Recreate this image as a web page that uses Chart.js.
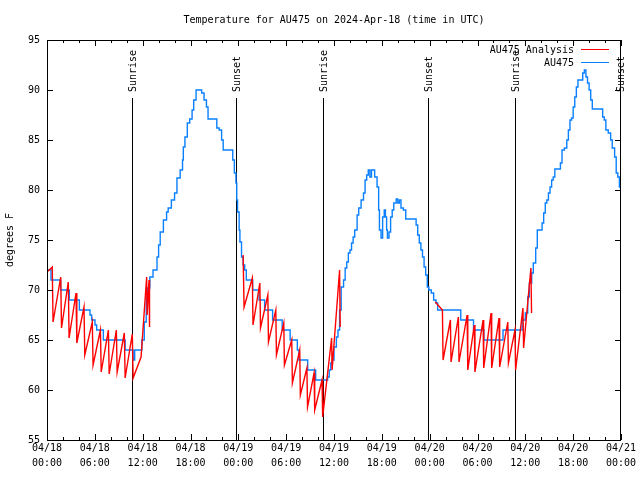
<!DOCTYPE html>
<html lang="en">
<head>
<meta charset="UTF-8">
<title>Temperature for AU475</title>
<script src="https://cdn.jsdelivr.net/npm/chart.js"></script>
<style>
    body { margin: 0; background: #fff; }
    #wrap { width: 640px; height: 480px; }
</style>
</head>
<body>
<div id="wrap"><canvas id="tempChart" width="640" height="480"></canvas></div>
<script>
const chartTitle = 'Temperature for AU475 on 2024-Apr-18 (time in UTC)';

// x values are hours since 04/18 00:00 UTC
const xTickDates = ['04/18', '04/18', '04/18', '04/18', '04/19', '04/19', '04/19', '04/19', '04/20', '04/20', '04/20', '04/20', '04/21'];
const xTickTimes = ['00:00', '06:00', '12:00', '18:00', '00:00', '06:00', '12:00', '18:00', '00:00', '06:00', '12:00', '18:00', '00:00'];

const sunTimes = [10.66, 23.71, 34.62, 47.79, 58.70, 71.88];
const sunLabels = ['Sunrise', 'Sunset', 'Sunrise', 'Sunset', 'Sunrise', 'Sunset'];

// AU475 observations (value holds until next time)
const obsTimes = [
    0, 0.5, 1.71, 2.8, 4.06, 5.39, 5.6, 6.02, 6.23, 7.07,
    9.8, 10.8, 11.0, 11.9, 12.2, 12.45, 12.6, 12.9, 13.3, 13.8,
    14.0, 14.2, 14.6, 15.0, 15.2, 15.6, 16.0, 16.3, 16.7, 17.0,
    17.1, 17.3, 17.6, 17.9, 18.2, 18.4, 18.7, 19.4, 19.7, 20.0,
    20.2, 21.3, 21.6, 21.9, 22.1, 23.3, 23.5, 23.7, 23.8, 23.9,
    24.1, 24.2, 24.4, 24.6, 24.8, 25.0, 25.8, 26.6, 27.3, 28.3,
    29.5, 30.5, 31.4, 31.6, 32.7, 33.7, 35.2, 35.4, 35.6, 35.8,
    36.0, 36.3, 36.5, 36.7, 36.9, 37.2, 37.4, 37.6, 37.8, 38.0,
    38.2, 38.4, 38.6, 38.9, 39.1, 39.4, 39.7, 39.9, 40.1, 40.3,
    40.5, 40.7, 41.1, 41.4, 41.6, 41.7, 41.9, 42.1, 42.3, 42.45,
    42.6, 42.7, 42.9, 43.1, 43.3, 43.5, 43.8, 44.0, 44.2, 44.4,
    44.7, 45.0, 46.3, 46.5, 46.7, 46.9, 47.1, 47.3, 47.5, 47.7,
    47.9, 48.2, 48.5, 48.8, 49.0, 51.9, 53.5, 54.8, 57.2, 59.6,
    60.0, 60.3, 60.5, 60.8, 61.0, 61.3, 61.5, 62.1, 62.3, 62.5,
    62.7, 62.9, 63.1, 63.3, 63.5, 63.7, 64.4, 64.6, 64.9, 65.2,
    65.4, 65.6, 65.8, 66.0, 66.2, 66.4, 66.6, 67.2, 67.4, 67.6,
    67.8, 68.0, 68.2, 68.4, 69.7, 69.9, 70.1, 70.4, 70.7, 70.9,
    71.2, 71.4, 71.6, 71.8, 71.95
];
const obsTemps = [
    72, 71, 70, 69, 68, 67.5, 67, 66.5, 66, 65,
    64, 63, 64, 65, 66.8, 69.2, 70.2, 71.3, 72, 73.3,
    74.5, 75.8, 77, 77.8, 78.2, 79, 79.7, 81.2, 82, 83,
    84.3, 85.3, 86.7, 87.1, 88, 89, 90, 89.7, 89, 88.3,
    87.1, 86.2, 86, 85, 84, 83, 81.7, 80.7, 79, 77.8,
    76, 74.8, 73.3, 72.5, 72, 71, 70, 69, 68, 67,
    66, 65, 64, 63, 62, 61, 61.3, 62, 62.7, 63,
    64.3, 65.3, 66, 68, 70.3, 71, 72.2, 72.8, 73.7, 74,
    74.7, 75.3, 76, 77.5, 78.2, 79, 79.7, 81, 81.5, 82,
    81.3, 82, 81.3, 80.3, 78, 76, 75.2, 77.3, 78, 77.3,
    76, 75.2, 75.8, 77.3, 78, 78.7, 79.1, 78.7, 79, 78.2,
    78, 77.1, 76.5, 75.5, 74.7, 74, 73.3, 72.3, 71.5, 70.3,
    70, 69.7, 69, 68.7, 68, 67, 66, 65, 66, 67,
    67.7, 69.3, 70.7, 71.7, 72.7, 74.2, 76, 76.7, 77.7, 78.7,
    79, 79.7, 80.3, 81, 81.3, 82.1, 82.7, 84, 84.2, 85,
    86, 87, 87.2, 88.3, 89.3, 90.3, 91, 91.7, 92, 91.3,
    90.7, 90, 89, 88.1, 87.3, 87, 86, 85.7, 85, 84.2,
    83.3, 81.7, 81.3, 80.3, 80
];

// AU475 Analysis, one run per night
const anaTimes1 = [0, 0.66, 0.76, 1.72, 1.82, 2.67, 2.77, 3.64, 3.74, 4.64,
    4.74, 5.68, 5.78, 6.7, 6.8, 7.7, 7.8, 8.7, 8.8, 9.7,
    9.8, 10.7, 10.8, 11.8, 12.5, 12.56, 12.8, 12.86];
const anaTemps1 = [71.8, 72.3, 66.8, 71.3, 66.2, 70.8, 65.2, 69.7, 64.7, 68.3,
    63.5, 66.8, 62.5, 66.0, 61.8, 66.0, 61.6, 66.0, 61.8, 65.7,
    61.2, 65.6, 61.2, 63.3, 71.3, 67.5, 71.0, 66.3];
const anaTimes2 = [24.6, 24.72, 25.76, 25.84, 26.7, 26.78, 27.7, 27.78, 28.7, 28.78,
    29.7, 29.78, 30.7, 30.78, 31.7, 31.78, 32.6, 32.68, 33.5, 33.58,
    34.5, 34.58, 35.7, 35.76, 36.7, 36.78];
const anaTemps2 = [73.5, 68.3, 71.2, 66.5, 70.7, 66.2, 69.5, 64.8, 68.0, 63.5,
    66.7, 62.5, 65.0, 60.7, 64.0, 59.5, 62.2, 58.3, 61.7, 58.0,
    61.0, 57.3, 65.2, 62.0, 72.0, 66.3];
const anaTimes3 = [48.7, 49.6, 49.68, 50.6, 50.68, 51.6, 51.68, 52.7, 52.78, 53.6,
    53.68, 54.7, 54.78, 55.7, 55.78, 56.7, 56.78, 57.8, 57.88, 58.7,
    58.78, 59.7, 59.78, 60.7, 60.78];
const anaTemps3 = [68.8, 68.0, 63.0, 67.0, 62.8, 67.3, 62.8, 67.5, 62.0, 66.5,
    61.8, 67.0, 62.2, 67.7, 62.2, 67.2, 62.3, 66.8, 62.7, 66.0,
    62.0, 68.2, 64.2, 72.2, 67.7];

const FONT = '"DejaVu Sans Mono", "Liberation Mono", monospace';

function toPoints(times, temps) {
    return times.map((t, i) => ({ x: t, y: temps[i] }));
}

// join the nightly runs with a null so the line breaks between them
const anaPoints = [];
[[anaTimes1, anaTemps1], [anaTimes2, anaTemps2], [anaTimes3, anaTemps3]].forEach(([t, v], k) => {
    if (k > 0) anaPoints.push({ x: t[0] - 0.01, y: null });
    anaPoints.push(...toPoints(t, v));
});

// title over the plot, sunrise/sunset markers, border box, inward ticks, legend
const gnuplotDecor = {
    id: 'gnuplotDecor',
    beforeDatasetsDraw(chart) {
        const { ctx, chartArea: a, scales: { x } } = chart;
        ctx.save();
        ctx.strokeStyle = '#000';
        ctx.fillStyle = '#000';
        ctx.lineWidth = 1;
        ctx.font = '10px ' + FONT;
        sunTimes.forEach((t, i) => {
            const px = Math.round(x.getPixelForValue(t)) + 0.5;
            ctx.beginPath();
            ctx.moveTo(px, a.top + 58);
            ctx.lineTo(px, a.bottom);
            ctx.stroke();
            ctx.save();
            ctx.translate(px + 1, a.top + 52);
            ctx.rotate(-Math.PI / 2);
            ctx.textAlign = 'left';
            ctx.textBaseline = 'middle';
            ctx.fillText(sunLabels[i], 0, 0);
            ctx.restore();
        });
        ctx.restore();
    },
    afterDraw(chart) {
        const { ctx, chartArea: a, scales: { x, y } } = chart;
        ctx.save();
        ctx.fillStyle = '#000';
        ctx.font = '10px ' + FONT;
        ctx.textAlign = 'center';
        ctx.textBaseline = 'middle';
        ctx.fillText(chartTitle, (a.left + a.right) / 2, a.top - 20);

        ctx.strokeStyle = '#000';
        ctx.lineWidth = 1;
        ctx.strokeRect(Math.round(a.left) + 0.5, Math.round(a.top) + 0.5,
            Math.round(a.right - a.left) - 1, Math.round(a.bottom - a.top));

        ctx.beginPath();
        // x ticks: major every 6 h, minor every 2 h, top and bottom
        for (let h = x.min; h <= x.max + 0.001; h += 2) {
            const px = Math.round(x.getPixelForValue(h)) + 0.5;
            const len = h % 6 === 0 ? 6 : 3;
            ctx.moveTo(px, a.bottom); ctx.lineTo(px, a.bottom - len);
            ctx.moveTo(px, a.top); ctx.lineTo(px, a.top + len);
        }
        y.ticks.forEach(t => {
            const py = Math.round(y.getPixelForValue(t.value)) + 0.5;
            ctx.moveTo(a.left, py); ctx.lineTo(a.left + 6, py);
            ctx.moveTo(a.right, py); ctx.lineTo(a.right - 6, py);
        });
        ctx.stroke();

        // legend in the top right corner
        ctx.textAlign = 'right';
        chart.data.datasets.forEach((ds, i) => {
            const ly = a.top + 9 + i * 13;
            ctx.fillStyle = '#000';
            ctx.fillText(ds.label, a.right - 47, ly + 1);
            ctx.strokeStyle = ds.borderColor;
            ctx.beginPath();
            ctx.moveTo(a.right - 40, ly + 0.5);
            ctx.lineTo(a.right - 12, ly + 0.5);
            ctx.stroke();
        });
        ctx.restore();
    }
};

new Chart(document.getElementById('tempChart'), {
    type: 'line',
    data: {
        datasets: [
            {
                label: 'AU475 Analysis',
                data: anaPoints,
                borderColor: '#ff0000',
                borderWidth: 1.4,
                pointRadius: 0,
                spanGaps: false,
                tension: 0
            },
            {
                label: 'AU475',
                data: toPoints(obsTimes, obsTemps),
                borderColor: '#0a80ff',
                borderWidth: 1.4,
                pointRadius: 0,
                stepped: 'before',
                tension: 0
            }
        ]
    },
    options: {
        responsive: false,
        animation: false,
        layout: { padding: { left: 0, right: 19, top: 40, bottom: 0 } },
        plugins: {
            legend: { display: false },
            tooltip: { enabled: false },
            title: { display: false }
        },
        scales: {
            x: {
                type: 'linear',
                min: 0,
                max: 72,
                grid: { display: false, drawTicks: false },
                border: { display: false },
                ticks: {
                    stepSize: 6,
                    autoSkip: false,
                    maxRotation: 0,
                    padding: 1,
                    color: '#000',
                    font: { family: FONT, size: 10, lineHeight: 1.5 },
                    callback: (v) => {
                        const i = Math.round(v / 6);
                        return [xTickDates[i], xTickTimes[i]];
                    }
                },
                afterFit: (scale) => { scale.height = 40; }
            },
            y: {
                min: 55,
                max: 95,
                grid: { display: false, drawTicks: false },
                border: { display: false },
                ticks: {
                    stepSize: 5,
                    padding: 7,
                    color: '#000',
                    font: { family: FONT, size: 10 }
                },
                title: {
                    display: true,
                    text: 'degrees F',
                    color: '#000',
                    font: { family: FONT, size: 10 }
                },
                afterFit: (scale) => { scale.width = 47; }
            }
        }
    },
    plugins: [gnuplotDecor]
});
</script>
</body>
</html>
